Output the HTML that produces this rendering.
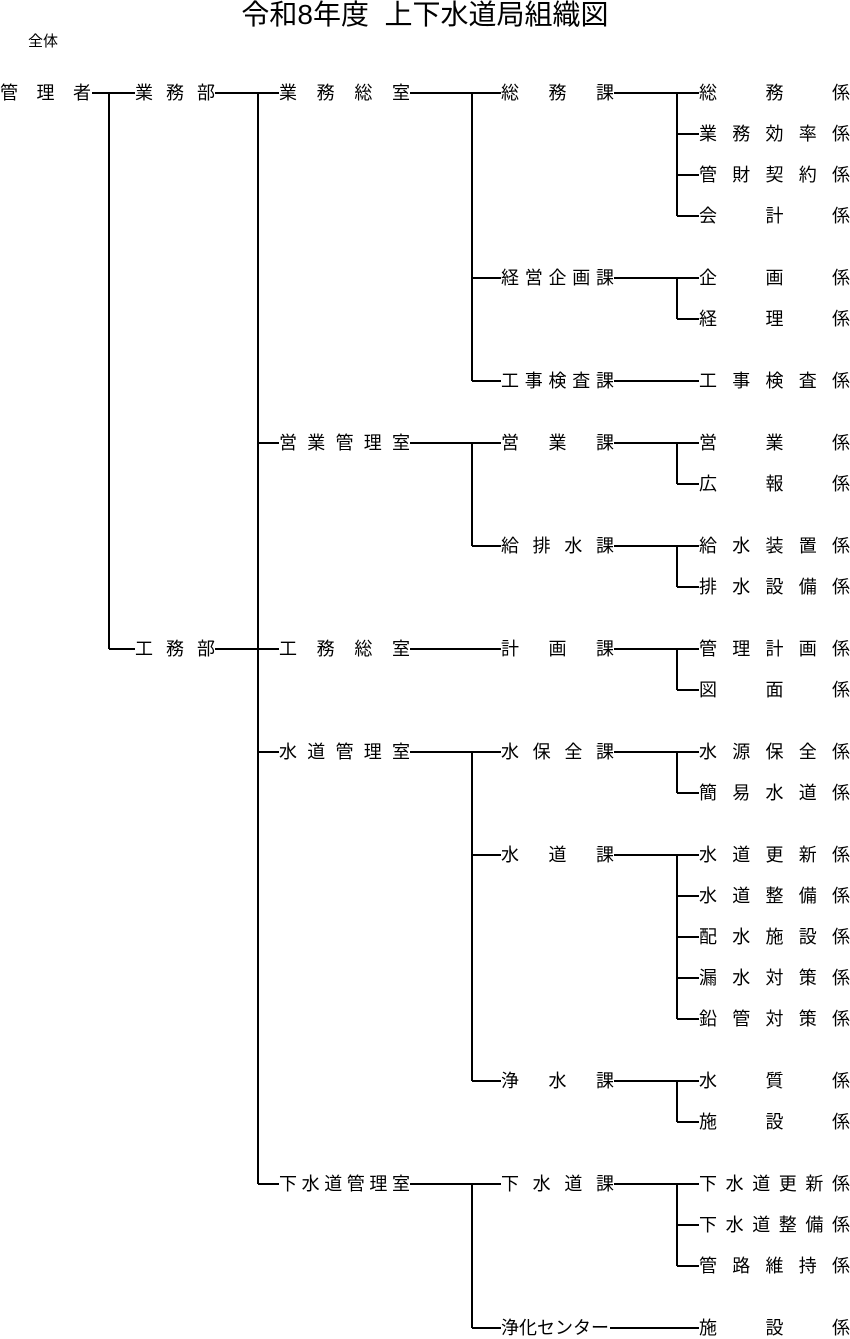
<!DOCTYPE html>
<html><head><meta charset="utf-8"><style>
html,body{margin:0;padding:0;background:#fff}
body{width:850px;height:1339px;position:relative;overflow:hidden;font-family:"Liberation Sans","Noto Sans CJK JP",sans-serif;color:#000}
.t{position:absolute;font-size:18px;line-height:20px;height:20px;white-space:nowrap;text-align:justify;text-align-last:justify;text-justify:inter-character}
.a{left:0;width:91px}.b{left:135px;width:80px}.c{left:279px;width:131px}.d{left:501px;width:113px}.e{left:699px;width:151px}
svg{position:absolute;left:0;top:0}
</style></head><body>
<div style="position:absolute;left:0;width:850px;top:-1px;text-align:center;font-size:28px;line-height:32px">令和8年度&nbsp;&nbsp;上下水道局組織図</div>
<div style="position:absolute;left:28px;top:33px;font-size:15px;line-height:18px">全体</div>
<svg width="850" height="1339" stroke="#000" stroke-width="2" fill="none">
<path d="M92 93H135M109 93V649M109 649H135"/>
<path d="M215 93H279M258 93V1184M258 443H279M215 649H279M258 752H279M258 1184H279"/>
<path d="M410 93H501M472 93V381M472 278H501M472 381H501"/>
<path d="M410 443H501M472 443V546M472 546H501"/>
<path d="M410 649H501"/>
<path d="M410 752H501M472 752V1081M472 855H501M472 1081H501"/>
<path d="M410 1184H501M472 1184V1328M472 1328H501"/>
<path d="M614 93H699M677 93V216M677 134H699M677 175H699M677 216H699"/>
<path d="M614 278H699M677 278V319M677 319H699"/>
<path d="M614 381H699"/>
<path d="M614 443H699M677 443V484M677 484H699"/>
<path d="M614 546H699M677 546V587M677 587H699"/>
<path d="M614 649H699M677 649V690M677 690H699"/>
<path d="M614 752H699M677 752V793M677 793H699"/>
<path d="M614 855H699M677 855V1019M677 896H699M677 937H699M677 978H699M677 1019H699"/>
<path d="M614 1081H699M677 1081V1122M677 1122H699"/>
<path d="M614 1184H699M677 1184V1266M677 1225H699M677 1266H699"/>
<path d="M610 1328H699"/>
</svg>
<div class="t a" style="top:83px">管理者</div>
<div class="t b" style="top:83px">業務部</div>
<div class="t b" style="top:639px">工務部</div>
<div class="t c" style="top:83px">業務総室</div>
<div class="t c" style="top:433px">営業管理室</div>
<div class="t c" style="top:639px">工務総室</div>
<div class="t c" style="top:742px">水道管理室</div>
<div class="t c" style="top:1174px">下水道管理室</div>
<div class="t d" style="top:83px">総務課</div>
<div class="t d" style="top:268px">経営企画課</div>
<div class="t d" style="top:371px">工事検査課</div>
<div class="t d" style="top:433px">営業課</div>
<div class="t d" style="top:536px">給排水課</div>
<div class="t d" style="top:639px">計画課</div>
<div class="t d" style="top:742px">水保全課</div>
<div class="t d" style="top:845px">水道課</div>
<div class="t d" style="top:1071px">浄水課</div>
<div class="t d" style="top:1174px">下水道課</div>
<div class="t" style="left:501px;top:1318px;text-align:left;text-align-last:left">浄化センター</div>
<div class="t e" style="top:83px">総務係</div>
<div class="t e" style="top:124px">業務効率係</div>
<div class="t e" style="top:165px">管財契約係</div>
<div class="t e" style="top:206px">会計係</div>
<div class="t e" style="top:268px">企画係</div>
<div class="t e" style="top:309px">経理係</div>
<div class="t e" style="top:371px">工事検査係</div>
<div class="t e" style="top:433px">営業係</div>
<div class="t e" style="top:474px">広報係</div>
<div class="t e" style="top:536px">給水装置係</div>
<div class="t e" style="top:577px">排水設備係</div>
<div class="t e" style="top:639px">管理計画係</div>
<div class="t e" style="top:680px">図面係</div>
<div class="t e" style="top:742px">水源保全係</div>
<div class="t e" style="top:783px">簡易水道係</div>
<div class="t e" style="top:845px">水道更新係</div>
<div class="t e" style="top:886px">水道整備係</div>
<div class="t e" style="top:927px">配水施設係</div>
<div class="t e" style="top:968px">漏水対策係</div>
<div class="t e" style="top:1009px">鉛管対策係</div>
<div class="t e" style="top:1071px">水質係</div>
<div class="t e" style="top:1112px">施設係</div>
<div class="t e" style="top:1174px">下水道更新係</div>
<div class="t e" style="top:1215px">下水道整備係</div>
<div class="t e" style="top:1256px">管路維持係</div>
<div class="t e" style="top:1318px">施設係</div>
</body></html>
